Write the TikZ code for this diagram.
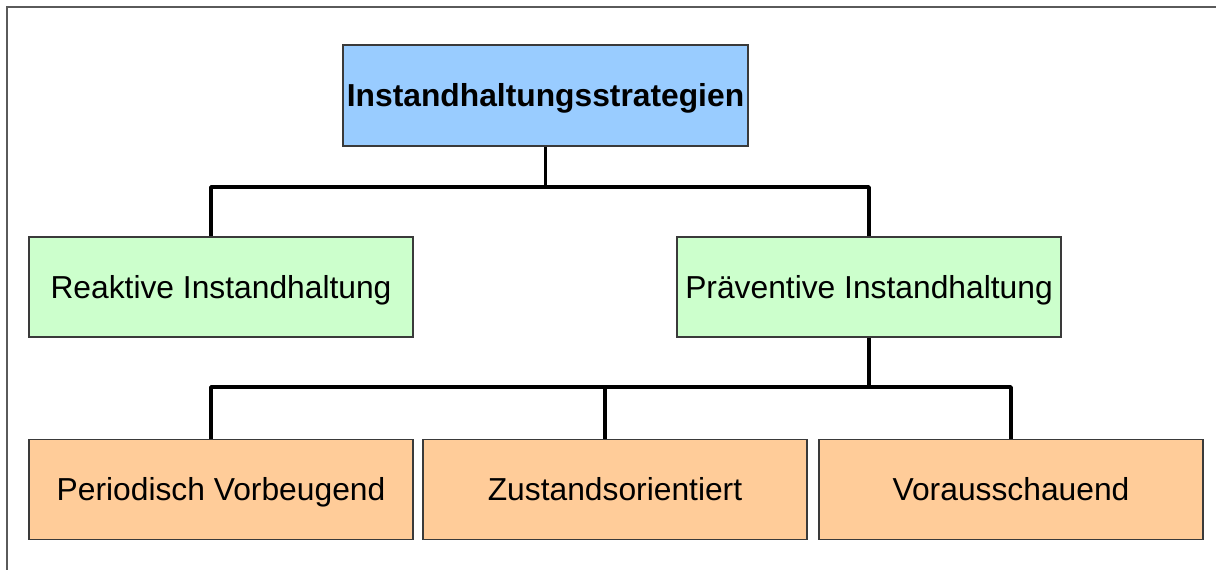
\documentclass[tikz,border=0pt]{standalone}
\usepackage{fontspec}
\setmainfont{Liberation Sans}
\usetikzlibrary{positioning, calc}
\definecolor{cblue}{HTML}{99CCFF}
\definecolor{cgreen}{HTML}{CCFFCC}
\definecolor{corange}{HTML}{FFCC99}
\definecolor{cedge}{HTML}{3A3A3A}
\definecolor{cframe}{HTML}{5A5A5A}
\tikzset{
  every picture/.style={line width=1.1pt},
  box/.style={draw=cedge, fill=#1, align=center, inner sep=0pt,
    minimum width=9.6cm, minimum height=2.5cm,
    text height=16.2pt, text depth=0pt,
    font=\fontsize{22.6}{27}\selectfont},
  box/.default=cgreen,
  link/.style={draw=black, line width=2.6pt, line join=round},
  frame/.style={draw=cframe, line width=1.1pt},
}
\begin{document}
\begin{tikzpicture}[x=0.025cm, y=-0.025cm,
  head/.style={box=cblue, minimum width=10.125cm, minimum height=2.525cm,
    font=\fontsize{22.6}{27}\selectfont\bfseries},
  kind/.style={box=cgreen},
  way/.style={box=corange}]
  \clip (0,0) rectangle (1216,570);
  \draw[frame] (7,7) rectangle (1260,620);
  % root
  \node[head] (strat) at (545.5,95.5) {Instandhaltungsstrategien};
  % first level
  \node[kind] (reak) at (221,287) {Reaktive Instandhaltung};
  \node[kind] (praev) at (869,287) {Präventive Instandhaltung};
  % second level
  \node[way] (perio) at (221,489.5) {Periodisch Vorbeugend};
  \node[way] (zust) at (615,489.5) {Zustandsorientiert};
  \node[way] (voraus) at (1011,489.5) {Vorausschauend};
  % connectors
  \coordinate (j1) at (545.5,187);
  \draw[link] (strat.south) -- (j1);
  \draw[link] (j1) -| ([xshift=-0.25cm]reak.north);
  \draw[link] (j1) -| (praev.north);
  \coordinate (j2) at (869,387);
  \draw[link] (praev.south) -- (j2);
  \draw[link] (j2) -| ([xshift=-0.25cm]perio.north);
  \draw[link] (j2) -| ([xshift=-0.25cm]zust.north);
  \draw[link] (j2) -| (voraus.north);
\end{tikzpicture}
\end{document}
